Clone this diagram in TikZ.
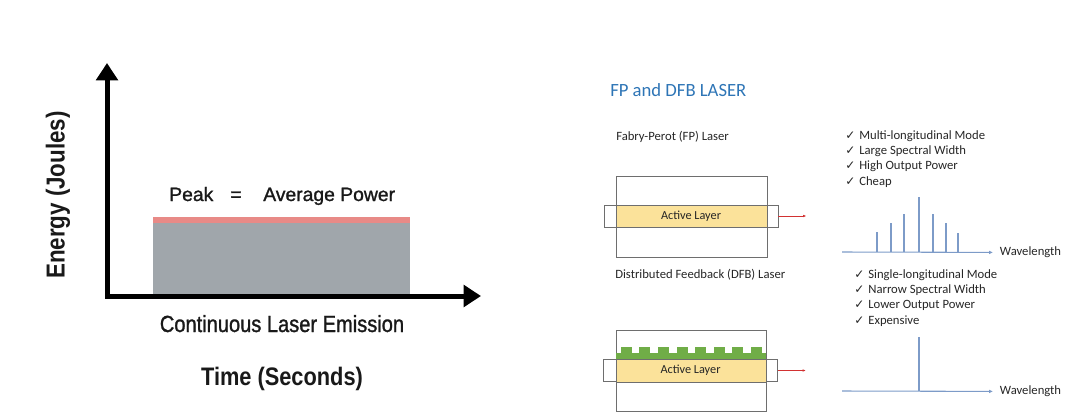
\documentclass[tikz,border=0pt]{standalone}
\usepackage{fontspec}
\setmainfont{Carlito}
\newfontfamily\chartfont[FakeBold=1.2]{Liberation Sans}
\newfontfamily\chartnarrow[FakeStretch=0.86]{Liberation Sans}
\newfontfamily\chartnarrowmed[FakeStretch=0.86,FakeBold=1.2]{Liberation Sans}
\newfontfamily\tickfont{DejaVu Sans}
\usepackage{tikz}
\usetikzlibrary{arrows.meta,positioning}

\definecolor{cwgray}{RGB}{160,166,171}
\definecolor{cwred}{RGB}{232,138,135}
\definecolor{titleblue}{RGB}{46,117,182}
\definecolor{activey}{RGB}{251,226,154}
\definecolor{gratgreen}{RGB}{112,173,71}
\definecolor{specblue}{RGB}{125,155,200}
\definecolor{boxgray}{RGB}{110,110,110}
\definecolor{beamred}{RGB}{210,50,50}

\newcommand{\chk}{{\tickfont\fontsize{9}{10}\selectfont ✓}}

\begin{document}
\begin{tikzpicture}[x=0.75pt,y=-0.75pt,
  axis/.style={line width=3.75pt,{Triangle[length=13pt,width=16pt]}-{Triangle[length=13pt,width=16pt]}},
  chartlab/.style={inner sep=0pt,text=black!90},
  boxline/.style={draw=boxgray,line width=.6pt},
  layerbox/.style={boxline,fill=white,minimum width=130.5pt,minimum height=16.5pt,inner sep=0pt},
  layertext/.style={font=\fontsize{9.2}{11}\selectfont,text=black!85},
  beam/.style={draw=beamred,line width=.5pt,-{Latex[length=2.5pt,width=2pt]}},
  item/.style={anchor=base west,inner sep=0pt,font=\fontsize{9.5}{11}\selectfont,text=black!85},
  specaxis/.style={draw=specblue,line width=.8pt,-{Latex[length=3pt,width=2.8pt]}},
  specline/.style={draw=specblue,line width=.8pt},
  wl/.style={anchor=west,inner sep=5pt,font=\fontsize{9.5}{11}\selectfont,text=black!85}]
\useasboundingbox (0,0) rectangle (1080,418);

% continuous emission chart
\coordinate (ytop) at (107,63);
\coordinate (xtip) at (481,296);
\fill[cwgray] (153,222) rectangle (410,294);
\fill[cwred] (153,217) rectangle (410,222.5);
\draw[axis] (ytop) |- (xtip);
\node[chartlab,anchor=base west,font=\chartfont\fontsize{14.5}{16}\selectfont] (peak) at (169,201) {Peak};
\node[chartlab,anchor=base,font=\chartfont\fontsize{14.5}{16}\selectfont] (eq) at (236,201) {=};
\node[chartlab,anchor=base west,font=\chartfont\fontsize{14.5}{16}\selectfont] (avg) at (263,201) {Average Power};
\node[chartlab,anchor=base,font=\chartnarrowmed\fontsize{17.5}{19}\selectfont] (cle) at (282,332) {Continuous Laser Emission};
\node[chartlab,anchor=base,font=\chartnarrow\bfseries\fontsize{19}{21}\selectfont] (tsec) at (282,385) {Time (Seconds)};
\node[chartlab,rotate=90,font=\chartnarrow\bfseries\fontsize{19.5}{21}\selectfont] (ejou) at (58,195) {Energy (Joules)};

% FP and DFB
\node[anchor=base west,inner sep=0pt,text=titleblue,font=\fontsize{14}{16}\selectfont] (title) at (610,96) {FP and DFB LASER};
\node[item] (fplab) at (616,140) {Fabry-Perot (FP) Laser};
\node[item] (dfblab) at (615,278) {Distributed Feedback (DFB) Laser};

% FP laser
\node[layerbox] (fpact) at (691,216) {};
\draw[boxline,fill=activey] (616,205) rectangle (767,227);
\draw[boxline] (616,176) rectangle (767,257);
\node[layertext] at (fpact) {Active Layer};
\coordinate[right=21pt of fpact.east] (fpend);
\draw[beam] (fpact.east) -- (fpend);

% DFB laser
\node[layerbox] (dfbact) at (690.5,370.5) {};
\draw[boxline,fill=activey] (616,359) rectangle (766,382);
\draw[boxline] (616,330) rectangle (766,411);
\fill[gratgreen] (616,353) rectangle (766,359.3);
\foreach \i in {0,...,7}
  \fill[gratgreen] ({620.7+18.6*\i},347) rectangle ({631.7+18.6*\i},354);
\node[layertext] at (dfbact) {Active Layer};
\coordinate[right=21pt of dfbact.east] (dfbend);
\draw[beam] (dfbact.east) -- (dfbend);

% feature lists
\foreach \txt [count=\i] in {Multi-longitudinal Mode,Large Spectral Width,High Output Power,Cheap}
  \node[item] (fpf\i) at (845,{139.3+15.3*(\i-1)}) {\chk\hspace{3pt}\txt};
\foreach \txt [count=\i] in {Single-longitudinal Mode,Narrow Spectral Width,Lower Output Power,Expensive}
  \node[item] (dfbf\i) at (854,{278+15.4*(\i-1)}) {\chk\hspace{3pt}\txt};

% spectra
\coordinate (fpax) at (842,252);
\node[wl] (fpwl) at (993,252.5) {Wavelength};
\draw[specaxis] (fpax) -- (fpwl);
\foreach \x/\h in {877/232,891/223,904/214,919/197,933/214,946/223,958/233}
  \draw[specline] (\x,252) -- (\x,\h);
\coordinate (dfbax) at (842,391);
\node[wl] (dfbwl) at (993,391.5) {Wavelength};
\draw[specaxis] (dfbax) -- (dfbwl);
\draw[specline] (919,391) -- (919,337);
\end{tikzpicture}
\end{document}
